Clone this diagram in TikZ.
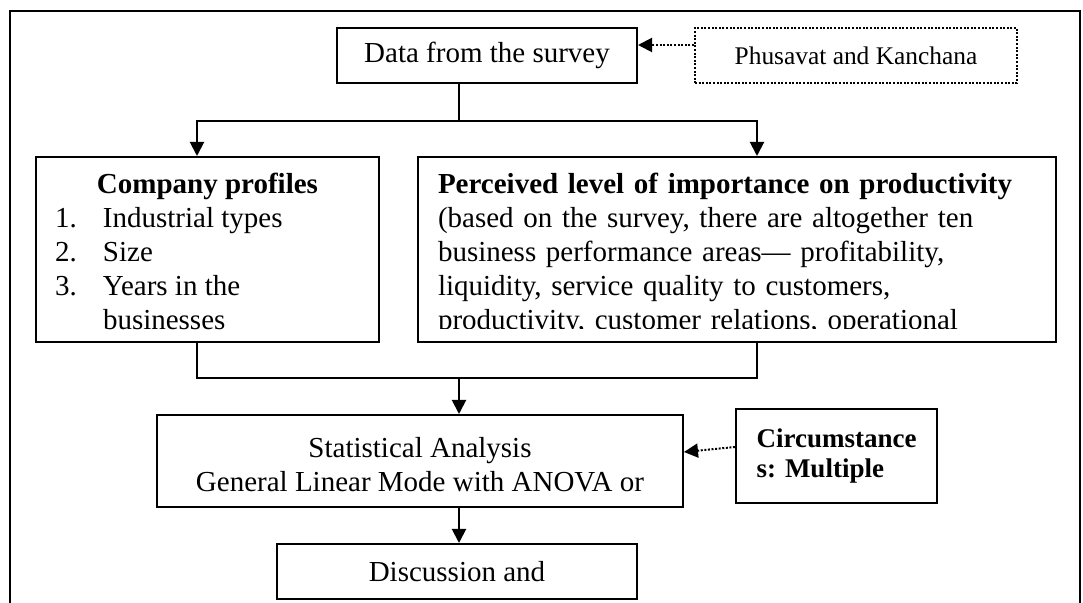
\documentclass[tikz,border=0pt]{standalone}
\usepackage{fontspec}
\setmainfont{Liberation Serif}
\usepackage{tikz}
\usetikzlibrary{arrows.meta, positioning, calc}
\definecolor{inkblack}{RGB}{0, 0, 0}
\tikzset{
  >=Triangle,
  flowarrow/.style={-{Triangle[length=7pt, width=7pt]}, line width=1pt, inkblack},
  dotarrow/.style={-{Triangle[length=7pt, width=7pt]}, line width=1pt, inkblack, dash pattern=on 1pt off 0.8pt},
  busline/.style={line width=1pt, inkblack}
}

\begin{document}
\begin{tikzpicture}[x=0.5pt, y=-0.5pt,
    basebox/.style={rectangle, draw=inkblack, line width=1pt, fill=white, align=center, font=\fontsize{14.5}{17}\selectfont, inner sep=0pt},
    textblock/.style={draw=none, fill=none, font=\fontsize{14.5}{17}\selectfont, inner sep=0pt},
    dotbox/.style={rectangle, draw=inkblack, line width=1pt, dash pattern=on 1pt off 0.8pt, align=center, font=\fontsize{12.7}{15}\selectfont, inner sep=0pt},
    circbox/.style={rectangle, draw=inkblack, line width=1pt, align=left, font=\fontsize{13.5}{15}\selectfont\bfseries, inner sep=0pt}
]
    \useasboundingbox (0,0) rectangle (1083,603);

    % outer frame, open at the bottom
    \draw[busline] (9.5,603) -- (9.5,11) -- (1080,11) -- (1080,603);

    % survey data and its source
    \node[basebox, minimum width=150pt, minimum height=27.5pt] (data) at (487,55.5) {Data from the survey};
    \node[dotbox, minimum width=161pt, minimum height=27.5pt] (phusavat) at (856,55.5) {Phusavat and Kanchana};

    % two description blocks
    \node[basebox, minimum width=171.5pt, minimum height=92.5pt] (profiles) at (207.5,249.5) {};
    \node[textblock, align=center, yshift=-3.5pt] (profilestext) at (profiles.center) {\textbf{Company profiles}\\
      \begin{tabular}[t]{@{}p{24pt}@{}p{128.5pt}@{}}
        1. & Industrial types\\
        2. & Size\\
        3. & Years in the\\
           & businesses
      \end{tabular}};
    \node[basebox, minimum width=319pt, minimum height=92.5pt] (perceived) at (737,249.5) {};
    \begin{scope}
      \clip (418,150) rectangle (1060,329);
      \node[textblock, align=left, text width=299pt, yshift=-2.5pt] (perceivedtext) at (perceived.center) {\textbf{Perceived level of importance on productivity}\\
        (based on the survey, there are altogether ten\\
        business performance areas--- profitability,\\
        liquidity, service quality to customers,\\
        productivity, customer relations, operational};
    \end{scope}

    % analysis and its input
    \node[basebox, minimum width=263pt, minimum height=46pt] (stats) at (420,461) {};
    \node[textblock, align=center, yshift=-2pt] (statstext) at (stats.center) {Statistical Analysis\\General Linear Mode with ANOVA or};
    \node[circbox, minimum width=100.5pt, minimum height=47pt] (circ) at (836.5,456) {Circumstance\\s: Multiple};

    % final block
    \node[basebox, minimum width=180pt, minimum height=27.5pt] (discussion) at (457,571.5) {Discussion and};

    % bus positions
    \coordinate (leftx) at (197,0);
    \coordinate (rightx) at (757,0);
    \coordinate (topbus) at (459,121);
    \coordinate (botbus) at (459,378);

    % arrows from the survey data
    \draw[flowarrow] (data.south -| topbus) -- (topbus) -| (profiles.north -| leftx);
    \draw[flowarrow] (topbus) -| (perceived.north -| rightx);
    \draw[dotarrow] ([yshift=5.25pt]phusavat.west) -- ([yshift=5.25pt]data.east);

    % arrows into the analysis
    \draw[busline] (profiles.south -| leftx) |- (botbus -| rightx) -- (perceived.south -| rightx);
    \draw[flowarrow] (botbus) -- (stats.north -| botbus);
    \draw[dotarrow] ([yshift=4.5pt]circ.west) -- ([yshift=4.5pt]stats.east);
    \draw[flowarrow] (stats.south -| botbus) -- (discussion.north -| botbus);
\end{tikzpicture}
\end{document}
